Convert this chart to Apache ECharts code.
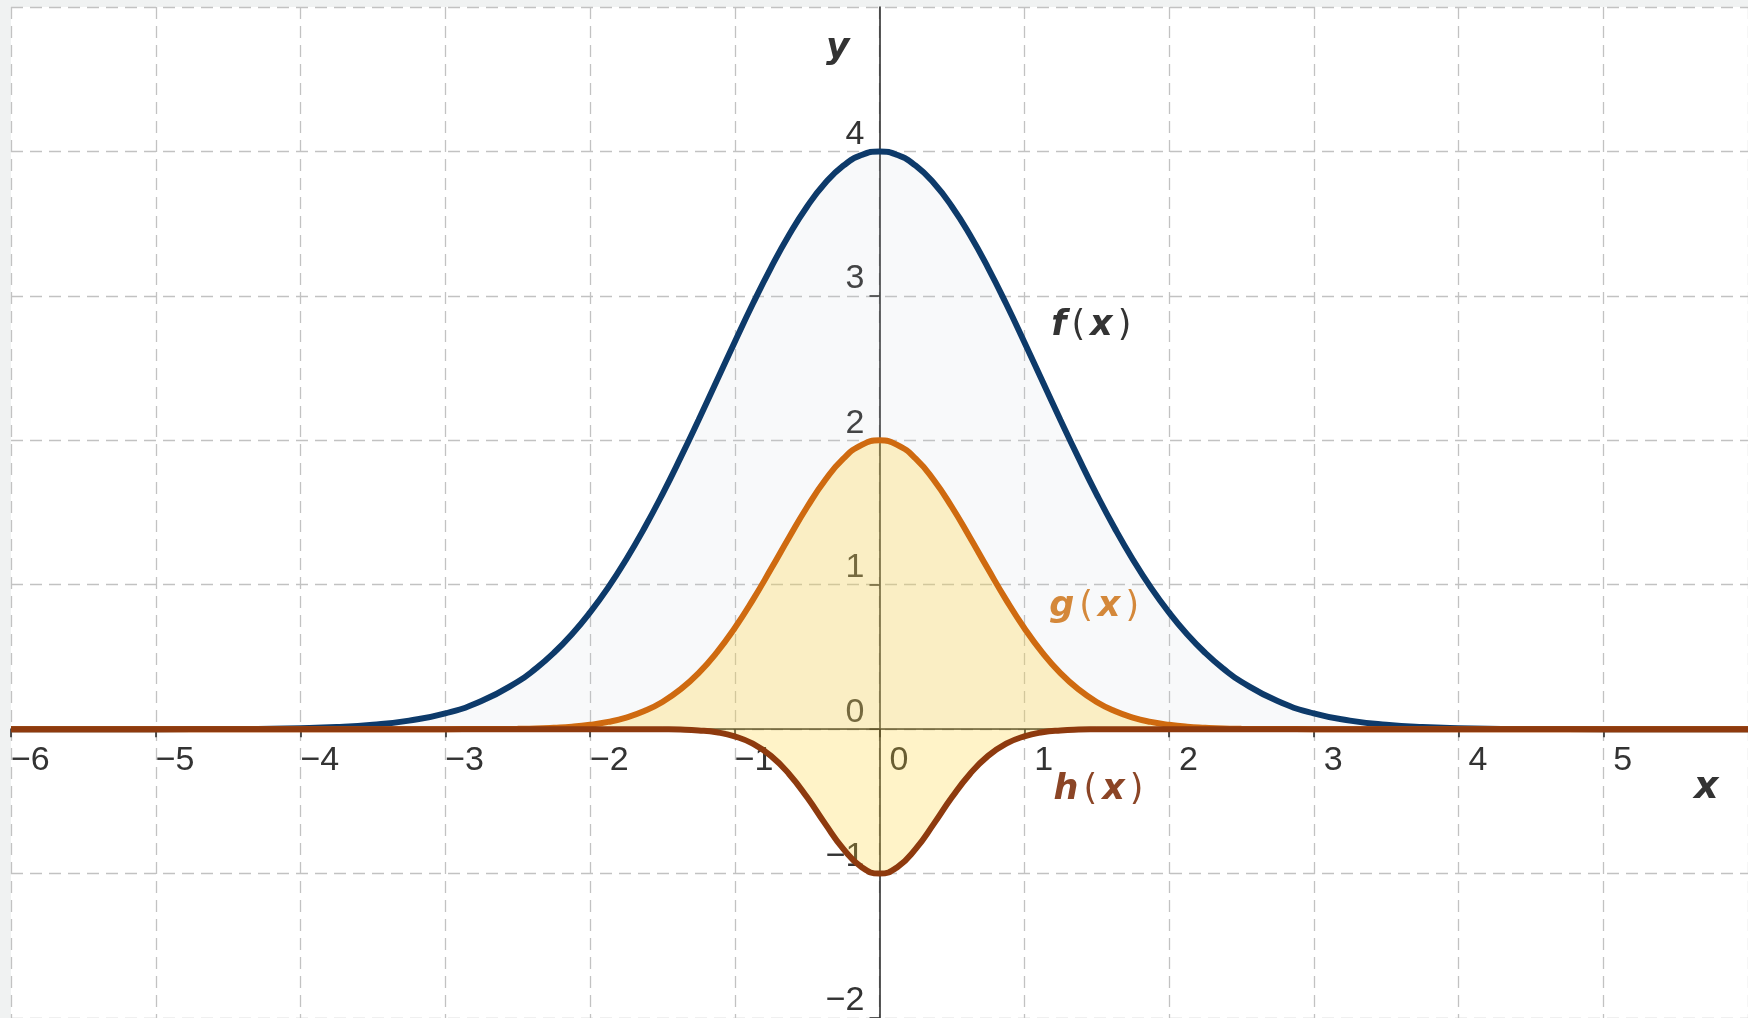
<!DOCTYPE html>
<html>
<head>
<meta charset="utf-8">
<style>
  html, body { margin: 0; padding: 0; background: #f0f2f2; }
  #chart { width: 1748px; height: 1018px; }
</style>
<script src="https://cdn.jsdelivr.net/npm/echarts@6/dist/echarts.min.js"></script>
</head>
<body>
<div id="chart"></div>
<script>
// sample positions along x (denser where the curves bend)
const xs = [-6, -5, -4.5, -4, -3.75, -3.5, -3.25, -3, -2.75,
  -2.5, -2.375, -2.25, -2.125, -2, -1.875, -1.75, -1.625, -1.5, -1.375, -1.25, -1.125, -1, -0.875, -0.75, -0.625, -0.5, -0.375, -0.25, -0.125,
  0,
  0.125, 0.25, 0.375, 0.5, 0.625, 0.75, 0.875, 1, 1.125, 1.25, 1.375, 1.5, 1.625, 1.75, 1.875, 2, 2.125, 2.25, 2.375, 2.5,
  2.75, 3, 3.25, 3.5, 3.75, 4, 4.5, 5, 6]

const fValues = [0, 0, 0.001, 0.007, 0.014, 0.03, 0.059, 0.109, 0.194,
  0.328, 0.419, 0.528, 0.657, 0.808, 0.98, 1.175, 1.391, 1.626, 1.878, 2.141, 2.411, 2.681, 2.945, 3.194, 3.421, 3.619, 3.781, 3.901, 3.975,
  4,
  3.975, 3.901, 3.781, 3.619, 3.421, 3.194, 2.945, 2.681, 2.411, 2.141, 1.878, 1.626, 1.391, 1.175, 0.98, 0.808, 0.657, 0.528, 0.419, 0.328,
  0.194, 0.109, 0.059, 0.03, 0.014, 0.007, 0.001, 0, 0]

const gValues = [0, 0, 0, 0, 0, 0, 0, 0, 0.001,
  0.003, 0.005, 0.01, 0.017, 0.03, 0.05, 0.08, 0.125, 0.188, 0.275, 0.388, 0.53, 0.7, 0.895, 1.108, 1.327, 1.538, 1.725, 1.873, 1.967,
  2,
  1.967, 1.873, 1.725, 1.538, 1.327, 1.108, 0.895, 0.7, 0.53, 0.388, 0.275, 0.188, 0.125, 0.08, 0.05, 0.03, 0.017, 0.01, 0.005, 0.003,
  0.001, 0, 0, 0, 0, 0, 0, 0, 0]

const hValues = [0, 0, 0, 0, 0, 0, 0, 0, 0,
  0, 0, 0, 0, 0, 0, 0, 0, -0.001, -0.003, -0.009, -0.022, -0.05, -0.101, -0.185, -0.31, -0.472, -0.656, -0.829, -0.954,
  -1,
  -0.954, -0.829, -0.656, -0.472, -0.31, -0.185, -0.101, -0.05, -0.022, -0.009, -0.003, -0.001, 0, 0, 0, 0, 0, 0, 0, 0,
  0, 0, 0, 0, 0, 0, 0, 0, 0]

const seriesNames = ['f', 'g', 'h']
// where each curve name sits, in data coordinates
const labelAnchors = [[1.48, 2.79], [1.5, 0.845], [1.53, -0.42]]

const chart = echarts.init(document.getElementById('chart'))

const pairs = (ys) => xs.map((x, i) => [x, ys[i]])
const minus = (v) => (v < 0 ? '\u2212' + Math.abs(v) : String(v))

const tickFont = { fontFamily: 'Liberation Sans', fontSize: 34, color: '#333' }
const gridLine = { show: true, lineStyle: { color: '#c2c2c2', width: 1.3, type: [12, 7] } }
const axisInk = { color: '#222', width: 1.5 }

function curveLabel(name, color, anchor) {
  return {
    symbol: 'circle',
    symbolSize: 0,
    silent: true,
    data: [{ coord: anchor }],
    label: {
      show: true,
      position: 'inside',
      formatter: `{v|${name}}{p|(}{v|x}{p|)}`,
      rich: {
        v: { fontFamily: 'DejaVu Sans', fontStyle: 'italic', fontWeight: 'bold', fontSize: 35, color },
        p: { fontFamily: 'DejaVu Sans', fontSize: 35, color, padding: [0, 5] },
      },
    },
  }
}

chart.setOption({
  backgroundColor: '#f0f2f2',
  animation: false,
  grid: {
    left: 11, top: 7, right: 0, bottom: 0,
    show: true, backgroundColor: '#fff', borderWidth: 0,
    containLabel: false, outerBoundsMode: 'none',
  },
  xAxis: {
    type: 'value',
    min: -6, max: 6, interval: 1,
    axisLine: { onZero: true, lineStyle: axisInk },
    axisTick: { show: true, length: 8, lineStyle: axisInk },
    splitLine: gridLine,
    axisLabel: {
      ...tickFont,
      showMinLabel: true, showMaxLabel: false,
      align: 'left', margin: 14,
      formatter: (v) => (v < 0 ? `{n|${minus(v)}}` : `{p|${v}}`),
      rich: {
        n: { ...tickFont },
        p: { ...tickFont, padding: [0, 0, 0, 10] },
      },
    },
    name: 'x',
    nameLocation: 'end',
    nameGap: -54,
    nameMoveOverlap: false,
    nameTextStyle: {
      fontFamily: 'DejaVu Sans', fontStyle: 'italic', fontWeight: 'bold', fontSize: 38, color: '#333',
      align: 'left', verticalAlign: 'top', padding: [40, 0, 0, 0],
    },
  },
  yAxis: {
    type: 'value',
    min: -2, max: 5, interval: 1,
    axisLine: { onZero: true, lineStyle: axisInk },
    axisTick: { show: true, length: 10, lineStyle: axisInk },
    splitLine: gridLine,
    axisLabel: {
      ...tickFont,
      showMinLabel: true, showMaxLabel: false,
      margin: 15, verticalAlign: 'bottom',
      formatter: minus,
    },
    name: 'y',
    nameLocation: 'end',
    nameGap: -60,
    nameMoveOverlap: false,
    nameTextStyle: {
      fontFamily: 'DejaVu Sans', fontStyle: 'italic', fontWeight: 'bold', fontSize: 36, color: '#333',
      align: 'right', verticalAlign: 'bottom', padding: [0, 30, 0, 0],
    },
  },
  series: [
    {
      name: seriesNames[0],
      type: 'line',
      data: pairs(fValues),
      smooth: true,
      showSymbol: false,
      lineStyle: { color: '#0d3a6a', width: 6 },
      areaStyle: { color: 'rgba(190,200,215,0.16)', origin: 'auto' },
      markPoint: curveLabel('f', '#333', labelAnchors[0]),
      z: 2,
    },
    {
      name: seriesNames[1],
      type: 'line',
      data: pairs(gValues),
      smooth: true,
      showSymbol: false,
      lineStyle: { color: '#cf6a10', width: 6 },
      areaStyle: { color: 'rgba(255,210,50,0.38)', origin: 'auto' },
      markPoint: curveLabel('g', '#d4883a', labelAnchors[1]),
      z: 3,
    },
    {
      name: seriesNames[2],
      type: 'line',
      data: pairs(hValues),
      smooth: true,
      showSymbol: false,
      lineStyle: { color: '#8e3a0e', width: 6 },
      areaStyle: { color: 'rgba(255,210,50,0.38)', origin: 'auto' },
      markPoint: curveLabel('h', '#8b4526', labelAnchors[2]),
      z: 4,
    },
  ],
})

// tick labels stay at the grid edges here even with onZero, so pull them
// in next to the axes that cross at the origin
const origin = chart.convertToPixel({ gridIndex: 0 }, [0, 0])
const corner = chart.convertToPixel({ gridIndex: 0 }, [-6, -2])
chart.setOption({
  xAxis: { axisLabel: { margin: 14 - (corner[1] - origin[1]) } },
  yAxis: { axisLabel: { margin: 15 - (origin[0] - corner[0]) } },
})
</script>
</body>
</html>
